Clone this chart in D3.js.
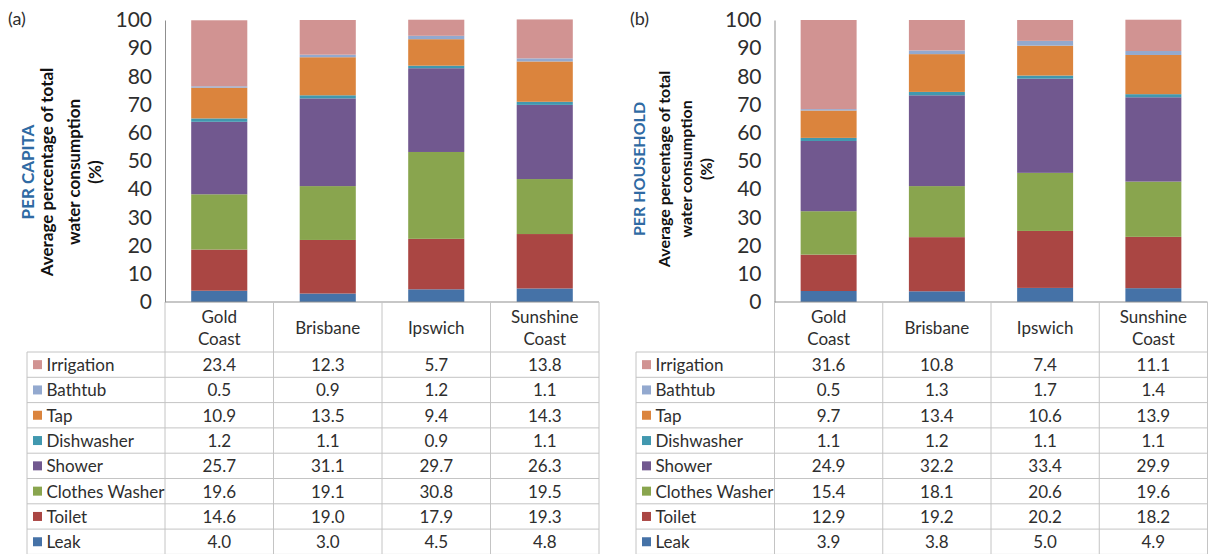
<!DOCTYPE html>
<html>
<head>
<meta charset="utf-8">
<script src="https://cdn.jsdelivr.net/npm/d3@7"></script>
<style>
  body { margin: 0; background: #ffffff; }
  svg { display: block; font-family: Lato, "Open Sans", sans-serif; }
</style>
</head>
<body>
<svg id="chart" width="1208" height="554"></svg>
<script>
const cities = ["Gold Coast", "Brisbane", "Ipswich", "Sunshine Coast"];
const cityLines = [["Gold", "Coast"], ["Brisbane"], ["Ipswich"], ["Sunshine", "Coast"]];
// stacking order, bottom to top
const uses = ["Leak", "Toilet", "Clothes Washer", "Shower", "Dishwasher", "Tap", "Bathtub", "Irrigation"];
const useColors = ["#4572A7", "#AA4643", "#89A54E", "#71588F", "#4198AF", "#DB843D", "#93A9CF", "#D19392"];
const yTicks = [0, 10, 20, 30, 40, 50, 60, 70, 80, 90, 100];

// one row per use (same order as `uses`), one column per city
const perCapita = [
  [4.0, 3.0, 4.5, 4.8],
  [14.6, 19.0, 17.9, 19.3],
  [19.6, 19.1, 30.8, 19.5],
  [25.7, 31.1, 29.7, 26.3],
  [1.2, 1.1, 0.9, 1.1],
  [10.9, 13.5, 9.4, 14.3],
  [0.5, 0.9, 1.2, 1.1],
  [23.4, 12.3, 5.7, 13.8]
];

const perHousehold = [
  [3.9, 3.8, 5.0, 4.9],
  [12.9, 19.2, 20.2, 18.2],
  [15.4, 18.1, 20.6, 19.6],
  [24.9, 32.2, 33.4, 29.9],
  [1.1, 1.2, 1.1, 1.1],
  [9.7, 13.4, 10.6, 13.9],
  [0.5, 1.3, 1.7, 1.4],
  [31.6, 10.8, 7.4, 11.1]
];

const panels = [
  {
    tag: "(a)", heading: "PER CAPITA", values: perCapita,
    tagX: 8, axisX: 165, right: 599, tableLeft: 27,
    titleX: [27, 46.5, 73.5, 94], titleY: 172, titleSize: 17
  },
  {
    tag: "(b)", heading: "PER HOUSEHOLD", values: perHousehold,
    tagX: 630, axisX: 774.5, right: 1207.5, tableLeft: 636,
    titleX: [638, 663, 685, 705], titleY: 169, titleSize: 16
  }
];

const plotTop = 20;
const plotBottom = 302;
const headerBottom = 352;
const rowHeight = 25.3;
const textColor = "#2e2e2e";
const gridColor = "#c4c4c4";
const axisColor = "#8f8f8f";

const svg = d3.select("#chart");

function drawPanel(panel) {
  const g = svg.append("g");

  const rows = cities.map((city, ci) => {
    const row = { city };
    uses.forEach((use, ui) => { row[use] = panel.values[ui][ci]; });
    return row;
  });
  const stacked = d3.stack().keys(uses)(rows);

  const x = d3.scaleBand()
    .domain(cities)
    .range([panel.axisX, panel.right])
    .padding(0);

  const y = d3.scaleLinear()
    .domain([0, 100])
    .range([plotBottom, plotTop]);

  const barWidth = x.bandwidth() * 0.517;
  const color = d3.scaleOrdinal().domain(uses).range(useColors);

  // stacked bars
  g.selectAll("g.layer")
    .data(stacked)
    .enter()
    .append("g")
    .attr("class", "layer")
    .attr("fill", (d) => color(d.key))
    .selectAll("rect")
    .data((d) => d)
    .enter()
    .append("rect")
    .attr("x", (d) => x(d.data.city) + (x.bandwidth() - barWidth) / 2)
    .attr("y", (d) => y(d[1]))
    .attr("width", barWidth)
    .attr("height", (d) => y(d[0]) - y(d[1]));

  // y axis
  g.append("g")
    .attr("transform", `translate(${panel.axisX},0)`)
    .call(d3.axisLeft(y).tickValues(yTicks).tickSize(0).tickPadding(13))
    .call((a) => a.select(".domain").attr("stroke", axisColor))
    .call((a) => a.selectAll("text")
      .attr("fill", textColor)
      .style("font-family", "Lato, sans-serif")
      .style("font-size", "21px"));

  // panel tag
  g.append("text")
    .attr("x", panel.tagX)
    .attr("y", 25)
    .attr("fill", textColor)
    .attr("font-size", 18)
    .text(panel.tag);

  // rotated axis titles
  const titleLines = [panel.heading, "Average percentage of total", "water consumption", "(%)"];
  titleLines.forEach((line, i) => {
    g.append("text")
      .attr("transform", `translate(${panel.titleX[i]},${panel.titleY}) rotate(-90)`)
      .attr("text-anchor", "middle")
      .attr("dominant-baseline", "central")
      .attr("font-size", panel.titleSize)
      .attr("font-weight", 700)
      .attr("fill", i === 0 ? "#2f6aa3" : "#111111")
      .text(line);
  });

  // data table
  const table = g.append("g");
  const tableBottom = headerBottom + rowHeight * uses.length;
  const tableRows = uses.slice().reverse();

  table.append("line")
    .attr("x1", panel.axisX).attr("x2", panel.right)
    .attr("y1", plotBottom).attr("y2", plotBottom)
    .attr("stroke", axisColor);

  cities.forEach((city) => {
    table.append("line")
      .attr("x1", x(city) + x.bandwidth()).attr("x2", x(city) + x.bandwidth())
      .attr("y1", plotBottom).attr("y2", tableBottom)
      .attr("stroke", gridColor);
  });

  table.append("line")
    .attr("x1", panel.axisX).attr("x2", panel.axisX)
    .attr("y1", plotBottom).attr("y2", tableBottom)
    .attr("stroke", gridColor);

  table.append("line")
    .attr("x1", panel.tableLeft).attr("x2", panel.tableLeft)
    .attr("y1", headerBottom).attr("y2", tableBottom)
    .attr("stroke", gridColor);

  d3.range(uses.length + 1).forEach((i) => {
    table.append("line")
      .attr("x1", panel.tableLeft).attr("x2", panel.right)
      .attr("y1", headerBottom + i * rowHeight).attr("y2", headerBottom + i * rowHeight)
      .attr("stroke", gridColor);
  });

  // header cells
  cities.forEach((city, ci) => {
    const lines = cityLines[ci];
    const cy = (plotBottom + headerBottom) / 2;
    lines.forEach((line, li) => {
      table.append("text")
        .attr("x", x(city) + x.bandwidth() / 2)
        .attr("y", cy + (li - (lines.length - 1) / 2) * 22)
        .attr("text-anchor", "middle")
        .attr("dominant-baseline", "central")
        .attr("font-size", 17)
        .attr("fill", textColor)
        .text(line);
    });
  });

  // body rows
  tableRows.forEach((use, ri) => {
    const ui = uses.indexOf(use);
    const cy = headerBottom + rowHeight * (ri + 0.5);

    table.append("rect")
      .attr("x", panel.tableLeft + 6)
      .attr("y", cy - 4.5)
      .attr("width", 9)
      .attr("height", 9)
      .attr("fill", color(use));

    table.append("text")
      .attr("x", panel.tableLeft + 19.5)
      .attr("y", cy)
      .attr("dominant-baseline", "central")
      .attr("font-size", 17)
      .attr("fill", textColor)
      .text(use);

    cities.forEach((city, ci) => {
      table.append("text")
        .attr("x", x(city) + x.bandwidth() / 2)
        .attr("y", cy)
        .attr("text-anchor", "middle")
        .attr("dominant-baseline", "central")
        .attr("font-size", 17)
        .attr("fill", textColor)
        .text(panel.values[ui][ci].toFixed(1));
    });
  });
}

panels.forEach(drawPanel);
</script>
</body>
</html>
